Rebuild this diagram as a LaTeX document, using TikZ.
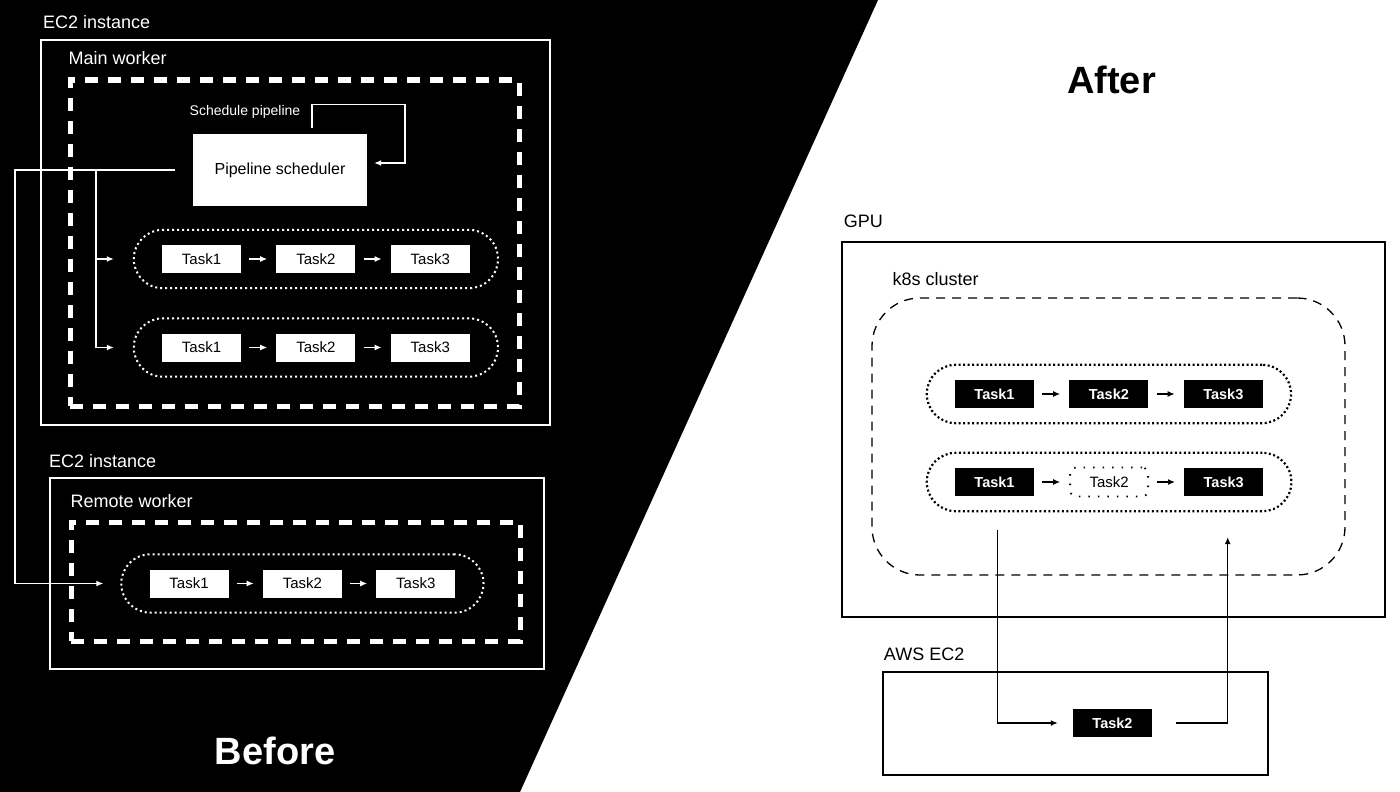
\documentclass[tikz,border=0pt]{standalone}
\usepackage{fontspec}
\setmainfont{Liberation Sans}
\usetikzlibrary{positioning,fit,arrows.meta}

\begin{document}
\begin{tikzpicture}[x=1pt, y=-1pt, node distance=35pt, >={Latex[length=7pt,width=6pt]},
  lbl/.style={font=\fontsize{18}{20}\selectfont, inner sep=0pt, anchor=base west},
  big/.style={font=\fontsize{38}{40}\selectfont\bfseries, inner sep=0pt, anchor=base},
  wbox/.style={draw=white, line width=2pt, inner sep=0pt},
  bbox/.style={draw=black, line width=2.5pt, inner sep=0pt},
  worker/.style={draw=white, line width=5pt, dash pattern=on 13pt off 10pt, inner sep=0pt},
  wtask/.style={fill=white, text=black, minimum width=79pt, minimum height=28pt, inner sep=0pt, font=\fontsize{15}{17}\selectfont},
  btask/.style={fill=black, text=white, minimum width=79pt, minimum height=28pt, inner sep=0pt, font=\fontsize{14.5}{17}\selectfont\bfseries},
  gtask/.style={draw=black, line width=1.8pt, dash pattern=on 1.5pt off 8pt, rounded corners=6pt, minimum width=78pt, minimum height=29pt, inner sep=0pt, font=\fontsize{15}{17}\selectfont},
  wpill/.style={draw=white, line width=2pt, dash pattern=on 2pt off 3pt, rounded corners=29pt, inner xsep=28pt, inner ysep=15pt},
  bpill/.style={draw=black, line width=2.2pt, dash pattern=on 2pt off 2.5pt, rounded corners=29pt, inner xsep=28pt, inner ysep=15pt},
  wline/.style={draw=white, line width=1.3pt},
  bline/.style={draw=black, line width=1.3pt}]
\useasboundingbox (0,0) rectangle (1400,792);
\fill[black] (0,0) -- (878,0) -- (520,792) -- (0,792) -- cycle;

% before: main worker
\node[wbox, minimum width=509pt, minimum height=385pt] (ec2a) at (295.5,232.5) {};
\node[lbl, text=white] (ec2albl) at ([xshift=3pt,yshift=10pt]ec2a.north west) {EC2 instance};
\node[worker, minimum width=449pt, minimum height=326pt] (mainw) at (294.5,243) {};
\node[lbl, text=white] (mainwlbl) at ([xshift=1pt,yshift=13pt]mainw.north west) {Main worker};
\node[fill=white, minimum width=174pt, minimum height=72pt, font=\fontsize{16}{18}\selectfont] (sched) at (280,170) {Pipeline scheduler};
\node[text=white, inner sep=0pt, anchor=base, font=\fontsize{14}{16}\selectfont] (schedlbl) at ([xshift=-35pt,yshift=18pt]sched.north) {Schedule pipeline};
\node[wtask] (a1) at (201.5,259) {Task1};
\node[wtask, right=of a1] (a2) {Task2};
\node[wtask, right=of a2] (a3) {Task3};
\node[wpill, fit=(a1)(a3)] (pa) {};
\node[wtask] (b1) at (201.5,347.5) {Task1};
\node[wtask, right=of b1] (b2) {Task2};
\node[wtask, right=of b2] (b3) {Task3};
\node[wpill, fit=(b1)(b3)] (pb) {};

% before: remote worker
\node[wbox, minimum width=494pt, minimum height=191pt] (ec2b) at (297,573.5) {};
\node[lbl, text=white] (ec2blbl) at ([yshift=10pt]ec2b.north west) {EC2 instance};
\node[worker, minimum width=449pt, minimum height=119pt] (remw) at (295.5,581.5) {};
\node[lbl, text=white] (remwlbl) at ([xshift=2pt,yshift=12pt]remw.north west) {Remote worker};
\node[wtask] (c1) at (189,583.5) {Task1};
\node[wtask, right=34pt of c1] (c2) {Task2};
\node[wtask, right=34pt of c2] (c3) {Task3};
\node[wpill, fit=(c1)(c3)] (pc) {};

\coordinate (busL) at (15,170);
\coordinate (busM) at (96,170);
\draw[wline,->,shorten <=18pt,shorten >=17pt] (sched.west) -- (busL) |- (pc.west);
\draw[wline,->,shorten >=19pt] (busM) |- (pa.west);
\draw[wline,->,shorten >=19pt] (busM) |- (pb.west);
\draw[wline,->] ([xshift=32pt,yshift=6pt]sched.north) |- ++(93pt,23pt) |- ([xshift=7pt,yshift=7pt]sched.east);
\foreach \r in {a,b,c}{
  \draw[wline,->,shorten <=8pt,shorten >=9pt] (\r1) -- (\r2);
  \draw[wline,->,shorten <=8pt,shorten >=9pt] (\r2) -- (\r3);
}
\node[big, text=white] (before) at (275,764) {Before};

% after
\node[big] (after) at (1111.5,93) {After};
\node[bbox, minimum width=543pt, minimum height=375pt] (gpu) at (1113.5,429.5) {};
\node[lbl] (gpulbl) at ([xshift=3pt,yshift=13pt]gpu.north west) {GPU};
\node[draw, line width=1.3pt, dash pattern=on 9pt off 7pt, rounded corners=48pt, minimum width=473pt, minimum height=277pt, inner sep=0pt] (k8s) at (1108.5,436.5) {};
\node[lbl] (k8slbl) at ([xshift=21pt,yshift=12pt]k8s.north west) {k8s cluster};
\node[btask] (d1) at (994.5,394) {Task1};
\node[btask, right=of d1] (d2) {Task2};
\node[btask, right=of d2] (d3) {Task3};
\node[bpill, fit=(d1)(d3)] (pd) {};
\node[btask] (e1) at (994.5,482) {Task1};
\node[gtask, right=of e1] (e2) {Task2};
\node[btask, right=of e2] (e3) {Task3};
\node[bpill, fit=(e1)(e3)] (pe) {};
\foreach \r in {d,e}{
  \draw[bline,->,shorten <=8pt,shorten >=9pt] (\r1) -- (\r2);
  \draw[bline,->,shorten <=8pt,shorten >=9pt] (\r2) -- (\r3);
}
\node[bbox, minimum width=385pt, minimum height=103pt] (aws) at (1075.5,723.5) {};
\node[lbl] (awslbl) at ([xshift=2pt,yshift=10pt]aws.north west) {AWS EC2};
\node[btask] (t2) at (1112.5,723) {Task2};
\draw[bline,->,shorten <=34pt,shorten >=15pt] ([xshift=3pt]e1.south) |- (t2.west);
\draw[bline,->,shorten <=24pt,shorten >=41pt] (t2.east) -| ([xshift=4pt]e3.south);
\end{tikzpicture}
\end{document}
